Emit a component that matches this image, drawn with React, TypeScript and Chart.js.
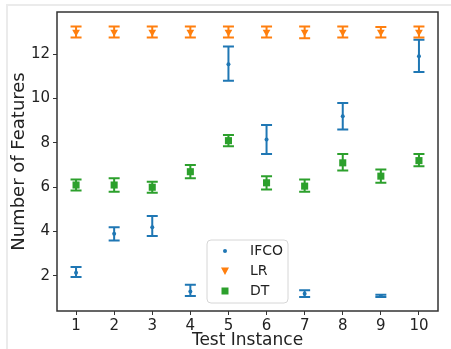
import React, { useEffect, useRef } from "react";
import { Chart, registerables } from "chart.js";

Chart.register(...registerables);

const instances = [1, 2, 3, 4, 5, 6, 7, 8, 9, 10];
const xTicks = [1, 2, 3, 4, 5, 6, 7, 8, 9, 10];
const yTicks = [2, 4, 6, 8, 10, 12];

const ifcoMean = [2.15, 3.9, 4.2, 1.3, 11.55, 8.15, 1.2, 9.2, 1.1, 11.9];
const ifcoLow = [1.95, 3.6, 3.8, 1.1, 10.8, 7.5, 1.05, 8.6, 1.05, 11.2];
const ifcoHigh = [2.4, 4.2, 4.7, 1.6, 12.35, 8.8, 1.35, 9.8, 1.15, 12.65];

const lrMean = [13, 13, 13, 13, 13, 13, 13, 13, 13, 13];
const lrLow = [12.75, 12.75, 12.75, 12.75, 12.75, 12.75, 12.72, 12.75, 12.75, 12.75];
const lrHigh = [13.25, 13.25, 13.25, 13.25, 13.25, 13.25, 13.25, 13.25, 13.22, 13.25];

const dtMean = [6.1, 6.1, 6.0, 6.7, 8.1, 6.2, 6.05, 7.1, 6.5, 7.2];
const dtLow = [5.85, 5.8, 5.75, 6.4, 7.85, 5.9, 5.8, 6.75, 6.2, 6.95];
const dtHigh = [6.35, 6.4, 6.25, 7.0, 8.35, 6.5, 6.35, 7.5, 6.8, 7.5];

const seriesNames = ["IFCO", "LR", "DT"];
const colors = ["#1f77b4", "#ff7f0e", "#2ca02c"];

const FONT = "'DejaVu Sans', sans-serif";

function drawMarker(ctx: CanvasRenderingContext2D, kind: number, x: number, y: number, color: string) {
  ctx.save();
  ctx.fillStyle = color;
  ctx.beginPath();
  if (kind === 0) {
    ctx.arc(x, y, 2, 0, Math.PI * 2);
  } else if (kind === 1) {
    ctx.moveTo(x - 4, y - 3.5);
    ctx.lineTo(x + 4, y - 3.5);
    ctx.lineTo(x, y + 4);
    ctx.closePath();
  } else {
    ctx.rect(x - 3.5, y - 3.5, 7, 7);
  }
  ctx.fill();
  ctx.restore();
}

const errorBarPlugin = {
  id: "errorBars",
  beforeDatasetsDraw(chart: any) {
    const ctx = chart.ctx;
    const xs = chart.scales.x;
    const ys = chart.scales.y;
    chart.data.datasets.forEach((ds: any) => {
      ctx.save();
      ctx.strokeStyle = ds.borderColor;
      ctx.lineWidth = 2;
      ds.errLow.forEach((lo: number, i: number) => {
        const hi = ds.errHigh[i];
        const px = xs.getPixelForValue(instances[i]);
        const pl = ys.getPixelForValue(lo);
        const ph = ys.getPixelForValue(hi);
        ctx.beginPath();
        ctx.moveTo(px, pl);
        ctx.lineTo(px, ph);
        ctx.moveTo(px - 5.5, pl);
        ctx.lineTo(px + 5.5, pl);
        ctx.moveTo(px - 5.5, ph);
        ctx.lineTo(px + 5.5, ph);
        ctx.stroke();
      });
      ctx.restore();
    });
  },
};

const framePlugin = {
  id: "frameAndLegend",
  afterDraw(chart: any) {
    const ctx = chart.ctx;
    const a = chart.chartArea;
    ctx.save();
    ctx.strokeStyle = "#333";
    ctx.lineWidth = 1.5;
    ctx.strokeRect(a.left, a.top, a.right - a.left, a.bottom - a.top);

    // legend box
    const bx = 207, by = 240, bw = 81, bh = 63, r = 4;
    ctx.beginPath();
    ctx.moveTo(bx + r, by);
    ctx.lineTo(bx + bw - r, by);
    ctx.quadraticCurveTo(bx + bw, by, bx + bw, by + r);
    ctx.lineTo(bx + bw, by + bh - r);
    ctx.quadraticCurveTo(bx + bw, by + bh, bx + bw - r, by + bh);
    ctx.lineTo(bx + r, by + bh);
    ctx.quadraticCurveTo(bx, by + bh, bx, by + bh - r);
    ctx.lineTo(bx, by + r);
    ctx.quadraticCurveTo(bx, by, bx + r, by);
    ctx.closePath();
    ctx.fillStyle = "rgba(255,255,255,0.85)";
    ctx.fill();
    ctx.strokeStyle = "#d6d6d6";
    ctx.lineWidth = 1;
    ctx.stroke();

    const rows = [251, 271, 291];
    ctx.font = `14px ${FONT}`;
    ctx.textBaseline = "middle";
    ctx.fillStyle = "#222";
    seriesNames.forEach((name, i) => {
      drawMarker(ctx, i, 225, rows[i], colors[i]);
      ctx.fillStyle = "#222";
      ctx.fillText(name, 250, rows[i]);
    });
    ctx.restore();
  },
};

export default function App() {
  const ref = useRef<HTMLCanvasElement | null>(null);
  useEffect(() => {
    if (!ref.current) return;
    const mk = (mean: number[]) => mean.map((v, i) => ({ x: instances[i], y: v }));
    const chart = new Chart(ref.current, {
      type: "scatter",
      data: {
        datasets: [
          {
            label: seriesNames[0],
            data: mk(ifcoMean),
            borderColor: colors[0],
            backgroundColor: colors[0],
            pointStyle: "circle",
            pointRadius: 2,
            pointBorderWidth: 0,
            errLow: ifcoLow,
            errHigh: ifcoHigh,
          } as any,
          {
            label: seriesNames[1],
            data: mk(lrMean),
            borderColor: colors[1],
            backgroundColor: colors[1],
            pointStyle: "triangle",
            pointRotation: 180,
            pointRadius: 4.5,
            pointBorderWidth: 0,
            errLow: lrLow,
            errHigh: lrHigh,
          } as any,
          {
            label: seriesNames[2],
            data: mk(dtMean),
            borderColor: colors[2],
            backgroundColor: colors[2],
            pointStyle: "rect",
            pointRadius: 5,
            pointBorderWidth: 0,
            errLow: dtLow,
            errHigh: dtHigh,
          } as any,
        ],
      },
      options: {
        animation: false,
        responsive: false,
        layout: { padding: { left: 0, top: 12, right: 13, bottom: 0 } },
        plugins: { legend: { display: false }, tooltip: { enabled: false } },
        scales: {
          x: {
            type: "linear",
            min: 0.5,
            max: 10.5,
            afterBuildTicks: (s: any) => {
              s.ticks = xTicks.map((v) => ({ value: v }));
            },
            afterFit: (s: any) => {
              s.height = 40;
            },
            ticks: { font: { family: FONT, size: 15 }, color: "#222", padding: 2, maxRotation: 0, autoSkip: false },
            grid: { display: true, drawOnChartArea: false, drawTicks: true, tickLength: 4, color: "#333" },
            border: { display: false },
            title: { display: true, text: "Test Instance", font: { family: FONT, size: 17 }, color: "#222", padding: { top: 0, bottom: 0 } },
          },
          y: {
            type: "linear",
            min: 0.42,
            max: 13.9,
            afterBuildTicks: (s: any) => {
              s.ticks = yTicks.map((v) => ({ value: v }));
            },
            afterFit: (s: any) => {
              s.width = 57;
            },
            ticks: { font: { family: FONT, size: 15 }, color: "#222", padding: 3 },
            grid: { display: true, drawOnChartArea: false, drawTicks: true, tickLength: 4, color: "#333" },
            border: { display: false },
            title: { display: true, text: "Number of Features", font: { family: FONT, size: 18 }, color: "#222", padding: { top: 9, bottom: 0 } },
          },
        },
      },
      plugins: [errorBarPlugin, framePlugin],
    } as any);
    return () => chart.destroy();
  }, []);
  return (
    <div style={{ position: "fixed", left: 0, top: 0, width: 451, height: 349, background: "#fff", overflow: "hidden" }}>
      <div style={{ position: "absolute", left: 6, top: 4, width: 500, height: 400, borderTop: "2px solid #ebebeb", borderLeft: "2px solid #ebebeb" }} />
      <canvas ref={ref} width={451} height={351} style={{ position: "absolute", left: 0, top: 0, width: 451, height: 351 }} />
    </div>
  );
}
